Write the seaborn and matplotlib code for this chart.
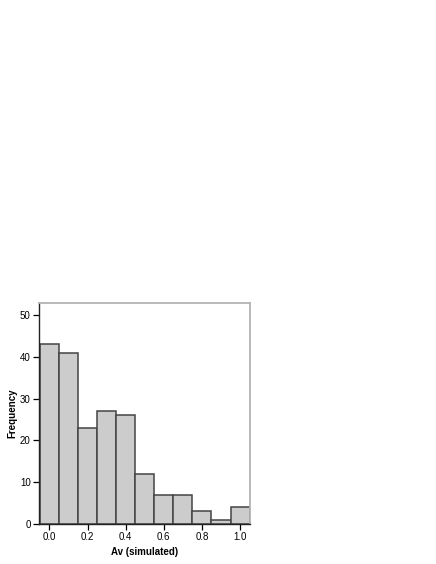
import numpy as np
import pandas as pd
import seaborn as sns
import matplotlib
matplotlib.use("Agg")
import matplotlib.pyplot as plt

# bin centres and counts
bin_centers = [0.0, 0.1, 0.2, 0.3, 0.4, 0.5, 0.6, 0.7, 0.8, 0.9, 1.0]
frequency = [43, 41, 23, 27, 26, 12, 7, 7, 3, 1, 4]
x_ticks = [0.0, 0.2, 0.4, 0.6, 0.8, 1.0]
y_ticks = [0, 10, 20, 30, 40, 50]

df = pd.DataFrame({"Av": bin_centers, "n": frequency})

sns.set_style("ticks")
plt.rcParams["font.family"] = ["Liberation Sans", "DejaVu Sans"]
plt.rcParams["text.color"] = "black"
plt.rcParams["axes.labelcolor"] = "black"
plt.rcParams["xtick.color"] = "black"
plt.rcParams["ytick.color"] = "black"

fig = plt.figure(figsize=(4.36, 5.64), dpi=100)
ax = fig.add_axes([0.0894, 0.0709, 0.4839, 0.392])

sns.histplot(data=df, x="Av", weights="n", binwidth=0.1, binrange=(-0.05, 1.05),
             color="#cccccc", edgecolor="#444444", linewidth=1.1, alpha=1, ax=ax)

ax.set_xlim(-0.055, 1.052)
ax.set_ylim(0, 52.9)
ax.set_xticks(x_ticks)
ax.set_xticklabels([f"{t:.1f}" for t in x_ticks])
ax.set_yticks(y_ticks)
ax.tick_params(labelsize=7, length=4, width=0.9, colors="black", pad=2)
ax.set_xlabel("Av (simulated)", fontsize=7, fontweight="bold", labelpad=3)
ax.set_ylabel("Frequency", fontsize=7, fontweight="bold", labelpad=1.5)

for side in ["left", "bottom"]:
    ax.spines[side].set_color("#222222")
    ax.spines[side].set_linewidth(1.0)
for side in ["top", "right"]:
    ax.spines[side].set_visible(True)
    ax.spines[side].set_color("#b3b3b3")
    ax.spines[side].set_linewidth(1.3)

fig.savefig("out.png", dpi=100, facecolor="white")
